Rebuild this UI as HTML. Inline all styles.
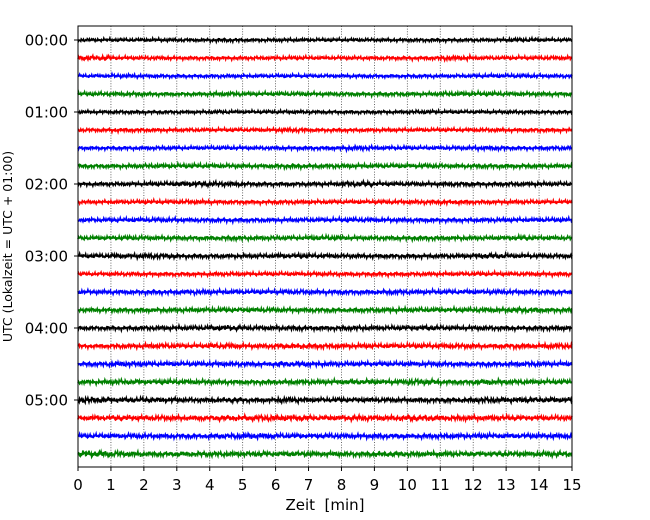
<!DOCTYPE html>
<html><head><meta charset="utf-8"><style>
body{margin:0;background:#fff;}
svg{display:block;font-family:"DejaVu Sans","Liberation Sans",sans-serif;}
text{white-space:pre;}
</style></head><body>
<svg id="chart" width="650" height="520"></svg>
<script>
// Data
const xTicks=[0,1,2,3,4,5,6,7,8,9,10,11,12,13,14,15];
const hourLabels=["00:00","01:00","02:00","03:00","04:00","05:00"];
const traceColors=["#000000","#ff0000","#0000ff","#008000"];
// amplitude envelope per trace (px), one value per minute 0..14
const envelopes=[
[1.5,1.5,1.6,1.5,1.7,1.5,1.6,1.5,1.5,1.5,1.6,1.5,1.5,1.8,1.5],
[2.5,1.6,1.7,1.6,1.6,1.6,1.7,1.6,1.6,1.6,1.7,2.2,1.6,1.7,1.8],
[1.5,1.8,1.6,1.5,1.6,1.5,1.6,1.5,1.6,1.5,1.6,1.5,1.7,1.8,1.6],
[1.8,1.9,1.7,1.6,2.0,1.7,1.8,1.7,1.7,1.8,1.7,2.0,1.9,1.8,1.8],
[1.5,1.6,1.5,1.5,1.6,1.5,1.6,1.5,1.5,1.5,1.7,1.5,1.5,1.6,1.5],
[1.6,1.8,1.6,1.6,1.6,1.6,2.0,1.6,1.6,1.6,1.6,1.6,1.7,1.6,1.7],
[1.6,1.6,1.7,1.6,1.7,1.6,1.7,1.7,2.1,1.7,1.6,1.7,2.0,1.6,1.8],
[1.8,1.8,2.0,2.0,1.9,1.8,2.1,2.0,1.9,1.9,2.0,1.8,2.0,1.9,1.8],
[1.7,1.7,1.9,2.6,2.2,1.8,1.8,1.8,2.6,1.8,1.8,2.0,1.8,1.9,1.8],
[1.6,1.7,1.8,1.9,1.7,1.7,1.8,1.7,1.7,1.8,1.9,2.0,1.7,1.8,1.7],
[1.8,1.9,2.0,1.8,1.9,1.8,1.8,1.9,2.0,1.9,1.9,1.8,1.9,1.8,1.9],
[1.8,2.0,1.9,1.8,2.1,1.9,1.8,2.2,1.8,1.9,2.0,1.9,1.8,2.2,1.8],
[1.9,2.2,2.4,1.9,1.9,1.9,2.2,1.9,1.9,1.9,1.9,1.9,2.5,1.9,1.9],
[1.6,1.7,1.7,1.7,1.8,1.7,1.7,1.8,1.7,1.8,1.7,1.7,1.8,1.7,1.8],
[1.9,1.9,2.0,2.2,2.0,1.9,2.1,2.0,2.0,2.2,2.0,2.0,2.1,2.0,2.0],
[1.9,2.0,2.0,2.0,2.1,2.1,2.0,2.0,2.0,2.1,2.0,2.0,2.1,2.5,2.0],
[1.8,1.9,2.0,2.0,2.5,2.0,2.2,2.0,2.1,2.0,2.4,1.9,2.0,2.0,2.1],
[1.8,2.0,2.2,1.9,2.4,2.0,2.5,2.2,2.1,2.0,2.1,2.2,2.0,2.3,2.4],
[2.0,2.5,2.0,2.0,2.1,2.0,2.6,2.1,2.0,2.0,2.1,2.0,2.1,2.2,2.0],
[2.0,2.3,2.2,2.1,2.0,2.0,2.2,2.1,2.4,2.1,2.6,2.0,2.6,2.1,2.0],
[3.0,2.3,2.4,2.0,2.4,2.0,2.6,2.0,2.2,2.0,2.1,2.2,2.5,2.5,2.4],
[2.2,2.5,2.3,2.2,2.5,2.8,2.9,2.3,2.6,2.5,3.0,2.4,2.4,2.3,2.2],
[2.0,2.2,2.1,2.1,2.4,2.7,2.1,2.2,2.1,2.3,2.2,2.2,2.3,2.2,2.3],
[3.2,2.6,2.2,2.4,2.3,2.4,2.4,2.3,2.2,2.6,2.3,2.3,2.4,2.3,2.6]
];
const xLabel="Zeit  [min]";
const yLabel="UTC (Lokalzeit = UTC + 01:00)";

const NS="http://www.w3.org/2000/svg";
const svg=document.getElementById("chart");
const L=78,R=572,T=26,B=467;
const x=v=>L+(v-0)*(R-L)/15;
const y0=40,dy=18;
const yTrace=i=>y0+i*dy;
function mk(tag,attrs,parent){const e=document.createElementNS(NS,tag);for(const k in attrs)e.setAttribute(k,attrs[k]);(parent||svg).appendChild(e);return e;}

xTicks.forEach(v=>{if(v>0&&v<15){const g=mk("line",{x1:x(v),x2:x(v),y1:T,y2:B,stroke:"#444","stroke-width":0.8,"stroke-dasharray":"1,1.6"});

}});

function noise(i,k){return Math.sin(k*1.7+i*3.1)*0.5+Math.sin(k*0.63+i*1.3)*0.35+Math.sin(k*2.9+i*0.7)*0.3+Math.sin(k*0.21+i*5)*0.2;}
envelopes.forEach((env,i)=>{
  const N=900;let d="";
  for(let k=0;k<=N;k++){
    const t=k/N*15;const m=Math.min(14,Math.floor(t));
    const a=env[m];
    const px=x(t),py=yTrace(i)+noise(i,k)*a*0.9;
    d+=(k?"L":"M")+px.toFixed(2)+","+py.toFixed(2);
  }
  const p=mk("path",{d:d,fill:"none",stroke:traceColors[i%4],"stroke-width":1.7});
  
  
});

const fr=mk("rect",{x:L,y:T,width:R-L,height:B-T,fill:"none",stroke:"#000","stroke-width":1});



xTicks.forEach(v=>{
  mk("line",{x1:x(v),x2:x(v),y1:B,y2:B+4,stroke:"#000"});
  const t=mk("text",{x:x(v),y:B+23,"text-anchor":"middle","font-size":15});
  t.textContent=v;
  
  
});
hourLabels.forEach((h,j)=>{
  const yy=yTrace(j*4);
  mk("line",{x1:L-4,x2:L,y1:yy,y2:yy,stroke:"#000"});
  const t=mk("text",{x:L-10,y:yy+5.5,"text-anchor":"end","font-size":15});
  t.textContent=h;
  
  
});
const xl=mk("text",{x:(L+R)/2,y:510,"text-anchor":"middle","font-size":15});
xl.textContent=xLabel;


const yl=mk("text",{x:0,y:0,"text-anchor":"middle","font-size":12.5,transform:"translate(12,"+((T+B)/2)+") rotate(-90)"});
yl.textContent=yLabel;


</script>
</body></html>
